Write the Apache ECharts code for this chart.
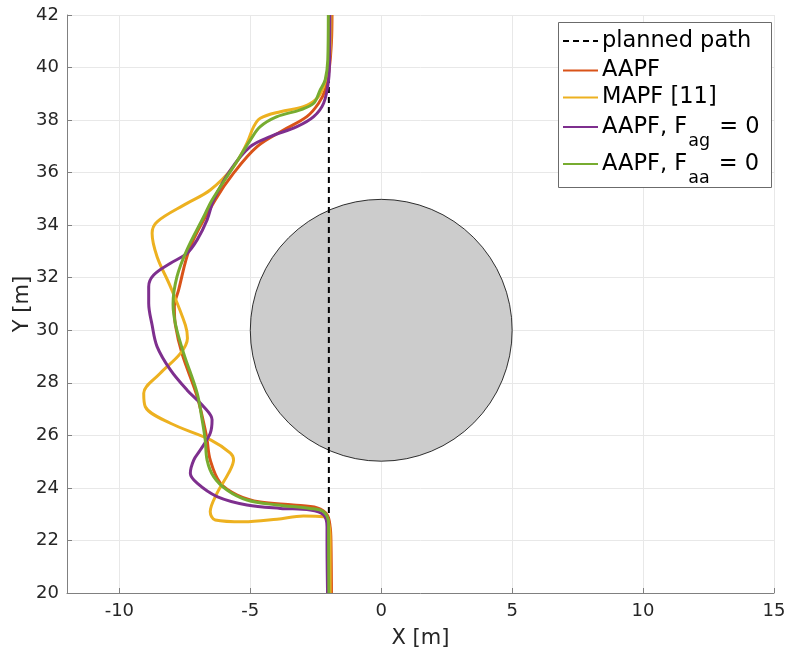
<!DOCTYPE html>
<html><head><meta charset="utf-8">
<script src="https://cdn.jsdelivr.net/npm/echarts@6/dist/echarts.min.js"></script>
<style>html,body{margin:0;padding:0;background:#fff}#c{width:790px;height:652px}</style>
</head><body><div id="c"></div>
<script>
// ---- data ----
const xTicks = [-10, -5, 0, 5, 10, 15];
const yTicks = [20, 22, 24, 26, 28, 30, 32, 34, 36, 38, 40, 42];
const seriesNames = ['planned path', 'AAPF', 'MAPF [11]', 'AAPF, F_ag = 0', 'AAPF, F_aa = 0'];
const plannedPath = [[-2, 20], [-2, 40]];
const obstacle = [[0, 30, 5]]; // centre x, centre y, radius
const aapf = [[-1.90,20],[-1.92,22.0],[-1.95,22.5],[-2.06,22.97],[-2.44,23.24],[-3.36,23.35],[-4.62,23.46],[-5.50,23.73],[-6.15,24.19],[-6.53,25.06],[-6.65,25.82],[-6.72,26.2],[-7.03,27.48],[-7.61,29.12],[-7.86,30.2],[-7.90,30.9],[-7.74,31.53],[-7.29,33.18],[-6.34,34.96],[-5.64,35.98],[-4.74,36.99],[-3.73,37.62],[-2.84,38.13],[-2.39,38.64],[-2.14,39.15],[-1.98,40.0],[-1.90,41.0],[-1.88,42]];
const mapf = [[-1.95,20],[-1.95,22.0],[-2.01,22.65],[-2.20,22.90],[-2.97,22.93],[-3.98,22.81],[-5.26,22.71],[-6.34,22.78],[-6.53,23.09],[-6.27,23.80],[-5.83,24.56],[-5.64,25.06],[-5.76,25.32],[-6.50,25.82],[-8.05,26.46],[-9.01,27.09],[-9.07,27.60],[-8.44,28.36],[-7.67,29.12],[-7.40,29.70],[-7.48,30.2],[-8.05,31.66],[-8.56,32.80],[-8.75,33.69],[-8.56,34.13],[-7.42,34.83],[-6.53,35.34],[-5.64,36.23],[-5.13,37.12],[-4.87,37.75],[-4.62,38.07],[-3.85,38.32],[-2.97,38.51],[-2.45,38.83],[-2.20,39.28],[-2.02,40.0],[-1.93,41.0],[-1.92,42]];
const aapfNoFag = [[-2.05,20],[-2.07,22.0],[-2.07,22.52],[-2.20,22.97],[-2.71,23.16],[-3.85,23.22],[-5.13,23.35],[-6.27,23.67],[-7.03,24.18],[-7.29,24.56],[-7.16,25.06],[-6.91,25.44],[-6.53,26.08],[-6.46,26.59],[-6.78,27.09],[-7.42,27.73],[-8.05,28.49],[-8.56,29.38],[-8.75,30.2],[-8.88,31.03],[-8.88,31.66],[-8.69,32.10],[-8.05,32.55],[-7.42,32.93],[-7.03,33.44],[-6.65,34.20],[-6.40,34.96],[-5.76,36.10],[-5.00,36.99],[-4.24,37.37],[-3.22,37.75],[-2.58,38.13],[-2.20,38.64],[-2.01,39.53],[-1.97,40.5],[-1.96,42]];
const aapfNoFaa = [[-2.00,20],[-2.01,22.0],[-2.01,22.65],[-2.20,23.09],[-2.71,23.22],[-3.98,23.35],[-5.13,23.54],[-5.89,23.92],[-6.40,24.43],[-6.65,25.06],[-6.72,25.82],[-6.84,26.59],[-7.03,27.61],[-7.55,29.14],[-7.85,30.2],[-7.95,31.0],[-7.80,32.04],[-7.42,33.06],[-6.78,34.32],[-6.46,34.96],[-5.64,36.23],[-5.00,37.24],[-4.62,37.75],[-3.98,38.13],[-3.09,38.39],[-2.58,38.64],[-2.33,39.15],[-2.14,39.53],[-2.04,40.3],[-2.02,42]];

// ---- chart ----
const FONT = 'DejaVu Sans';
const colors = ['#000000', '#D95319', '#EDB120', '#7E2F8E', '#77AC30'];
const chart = echarts.init(document.getElementById('c'), null, {renderer: 'canvas'});

function curve(name, data, color) {
  return {
    name: name, type: 'line', data: data, symbol: 'none', smooth: 0.35, z: 3,
    lineStyle: {color: color, width: 3}, itemStyle: {color: color},
    emphasis: {disabled: true}, animation: false
  };
}
const legendTops = [29.5, 59, 86, 104, 141];
const richFmt = function (name) {
  const m = name.match(/^(.*F)_(\w+)( = 0)$/);
  if (m) return '{n|' + m[1] + '}{s|' + m[2] + '}{n|' + m[3] + '}';
  return '{n|' + name + '}';
};
const legends = seriesNames.map(function (nm, i) {
  return {
    data: [nm], orient: 'vertical', left: 562, top: legendTops[i], padding: 0,
    itemWidth: 35, itemHeight: 14, itemGap: 0, z: 10, selectedMode: false,
    itemStyle: {opacity: 0, borderWidth: 0},
    formatter: richFmt,
    textStyle: {
      padding: [0, 0, 0, -1],
      rich: {
        n: {fontFamily: FONT, fontSize: 22.5, color: '#000', lineHeight: 22},
        s: {fontFamily: FONT, fontSize: 17.5, color: '#000', lineHeight: 22, padding: [28, 2, 0, 1]}
      }
    }
  };
});

const option = {
  animation: false,
  backgroundColor: '#fff',
  grid: {left: 67, right: 16, top: 15, bottom: 59, containLabel: false, outerBoundsMode: 'none'},
  xAxis: {
    type: 'value', min: -12, max: 15,
    name: 'X [m]', nameLocation: 'middle', nameGap: 35,
    nameTextStyle: {fontFamily: FONT, fontSize: 21, color: '#262626'},
    axisLine: {show: true, onZero: false, lineStyle: {color: '#808080', width: 1}},
    axisTick: {show: true, inside: true, length: 5, customValues: xTicks, lineStyle: {color: '#808080'}},
    axisLabel: {customValues: xTicks, fontFamily: FONT, fontSize: 18, color: '#262626', margin: 9},
    splitLine: {show: true, lineStyle: {color: '#e8e8e8', width: 1}}
  },
  yAxis: {
    type: 'value', min: 20, max: 42, interval: 2,
    name: 'Y [m]', nameLocation: 'middle', nameGap: 34, nameRotate: 90, nameMoveOverlap: false,
    nameTextStyle: {fontFamily: FONT, fontSize: 21, color: '#262626'},
    axisLine: {show: true, onZero: false, lineStyle: {color: '#808080', width: 1}},
    axisTick: {show: true, inside: true, length: 5, lineStyle: {color: '#808080'}},
    axisLabel: {fontFamily: FONT, fontSize: 18, color: '#262626', margin: 8},
    splitLine: {show: true, lineStyle: {color: '#e8e8e8', width: 1}}
  },
  legend: legends,
  graphic: [{
    type: 'rect', z: 9, left: 558, top: 22,
    shape: {width: 213, height: 165},
    style: {fill: '#fff', stroke: '#6b6b6b', lineWidth: 1}
  }],
  series: [
    {
      name: 'obstacle', type: 'custom', data: obstacle, z: 1, silent: true,
      encode: {x: 0, y: 1},
      renderItem: function (params, api) {
        const c = api.coord([api.value(0), api.value(1)]);
        const r = api.size([api.value(2), 0])[0];
        return {type: 'circle', shape: {cx: c[0], cy: c[1], r: r},
          style: {fill: '#cccccc', stroke: '#000', lineWidth: 0.8}};
      }
    },
    {
      name: 'planned path', type: 'line', data: plannedPath, symbol: 'none', z: 2,
      lineStyle: {color: '#000', width: 2, type: [6, 4]}, itemStyle: {color: '#000'},
      emphasis: {disabled: true}
    },
    curve(seriesNames[1], aapf, colors[1]),
    curve(seriesNames[2], mapf, colors[2]),
    curve(seriesNames[3], aapfNoFag, colors[3]),
    curve(seriesNames[4], aapfNoFaa, colors[4])
  ]
};
chart.setOption(option);
</script>
</body></html>
